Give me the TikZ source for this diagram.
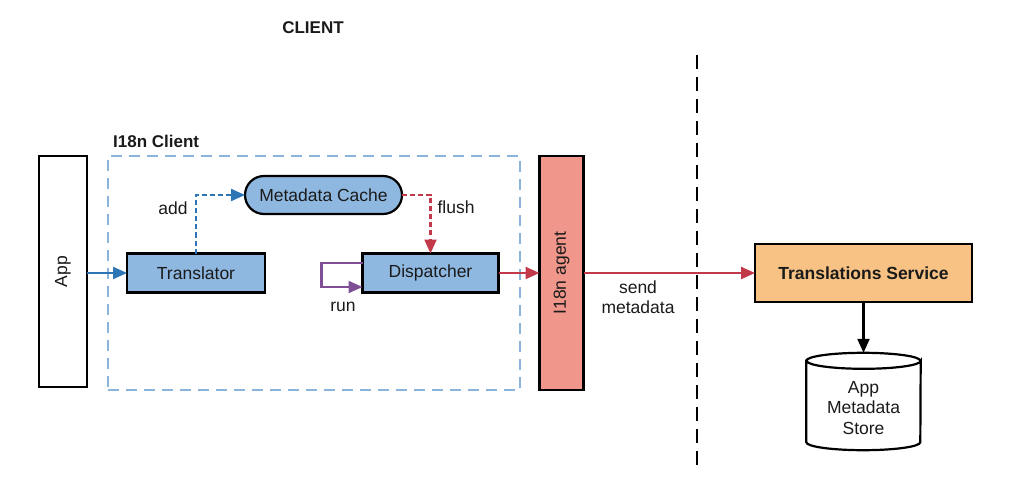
\documentclass[tikz,border=0pt]{standalone}
\usepackage{fontspec}
\setmainfont{Liberation Sans}
\usetikzlibrary{arrows.meta,calc}
\definecolor{boxblue}{HTML}{8FB8E1}
\definecolor{arrblue}{HTML}{2E75B6}
\definecolor{dashblue}{HTML}{8AB4DC}
\definecolor{arrred}{HTML}{C23A4A}
\definecolor{arrpurple}{HTML}{7E4E96}
\definecolor{agentfill}{HTML}{F0968A}
\definecolor{tsfill}{HTML}{F7C283}
\definecolor{txt}{HTML}{1A1A1A}
\begin{document}
\begin{tikzpicture}[x=1pt,y=-1pt,
  font=\fontsize{17.5}{20.5}\selectfont, text=txt,
  box/.style={draw=black, line width=2.2pt, inner sep=0pt, outer sep=0pt, align=center},
  bluebox/.style={box, fill=boxblue},
  lbl/.style={inner sep=0pt, align=center},
  tip/.style={-{Triangle[length=14pt,width=12pt]}},
  bluearr/.style={tip, draw=arrblue, line width=2.2pt},
  redarr/.style={tip, draw=arrred, line width=2.2pt},
  purparr/.style={tip, draw=arrpurple, line width=2.2pt},
]
\useasboundingbox (0,0) rectangle (1024,494);

% titles
\node[lbl, font=\fontsize{17}{20}\selectfont\bfseries] (client) at (313,28) {CLIENT};
\node[lbl, font=\fontsize{17}{20}\selectfont\bfseries, anchor=west] (i18nlbl) at (113,141) {I18n Client};

% dashed client frame
\node[draw=dashblue, line width=1.6pt, dash pattern=on 11pt off 7pt, inner sep=0pt,
      minimum width=412pt, minimum height=234pt] (frame) at (314,273) {};

% App
\node[box, fill=white, minimum width=48pt, minimum height=231pt] (app) at (63,271.5) {};
\node[lbl, rotate=90] (apptxt) at (app.center) {App};

% inner boxes
\node[bluebox, minimum width=138pt, minimum height=39pt] (trans) at (196,273) {Translator};
\node[bluebox, minimum width=157pt, minimum height=38pt, rounded corners=19pt] (cache) at (323.5,195) {Metadata Cache};
\node[bluebox, minimum width=136pt, minimum height=39pt] (disp) at (430.5,273) {Dispatcher};

% agent
\node[box, fill=agentfill, minimum width=44pt, minimum height=234pt] (agent) at (561.5,273) {};
\node[lbl, rotate=90] (agenttxt) at (agent.center) {I18n agent};

% translations service
\node[box, fill=tsfill, minimum width=217pt, minimum height=58pt,
      font=\fontsize{17.5}{20.5}\selectfont\bfseries] (ts) at (863.5,273) {Translations Service};

% store cylinder
\node[inner sep=0pt, minimum width=114pt, minimum height=97pt] (store) at (863.5,401.5) {};
\draw[line width=2.2pt, fill=white]
  ($(store.north west)+(0,8)$) -- ($(store.south west)+(0,-8)$)
  arc[start angle=180, end angle=360, x radius=57pt, y radius=8pt]
  -- ($(store.north east)+(0,8)$)
  arc[start angle=0, end angle=-180, x radius=57pt, y radius=8pt] -- cycle;
\draw[line width=2.2pt] ($(store.north west)+(0,8)$)
  arc[start angle=180, end angle=0, x radius=57pt, y radius=8pt];
\node[lbl, text=txt] (storetxt) at (863.5,408) {App\\Metadata\\Store};

% dashed separator
\coordinate (septop) at (697,55);
\coordinate (sepbot) at (697,470);
\draw[black, line width=2pt, dash pattern=on 14pt off 8pt] (septop) -- (sepbot);

% connectors
\draw[bluearr] (app.east |- trans.west) -- (trans.west);
\draw[bluearr, dash pattern=on 5pt off 3pt] (trans.north) |- (cache.west);
\draw[redarr, dash pattern=on 5pt off 3pt] (cache.east) -| (disp.north);
\draw[purparr] ([yshift=10pt]disp.west) -- ++(-41,0) |- ([yshift=-14pt]disp.west);
\draw[redarr] (disp.east) -- (disp.east -| agent.west);
\draw[redarr] (agent.east |- ts.west) -- (ts.west);
\draw[tip, draw=black, line width=2.2pt] (ts.south) -- (store.north);

% labels
\node[lbl] (addlbl) at (173,208) {add};
\node[lbl] (flushlbl) at (456,207) {flush};
\node[lbl] (runlbl) at (343,307) {run};
\node[lbl] (sendlbl) at (638,297) {send\\metadata};
\end{tikzpicture}
\end{document}
